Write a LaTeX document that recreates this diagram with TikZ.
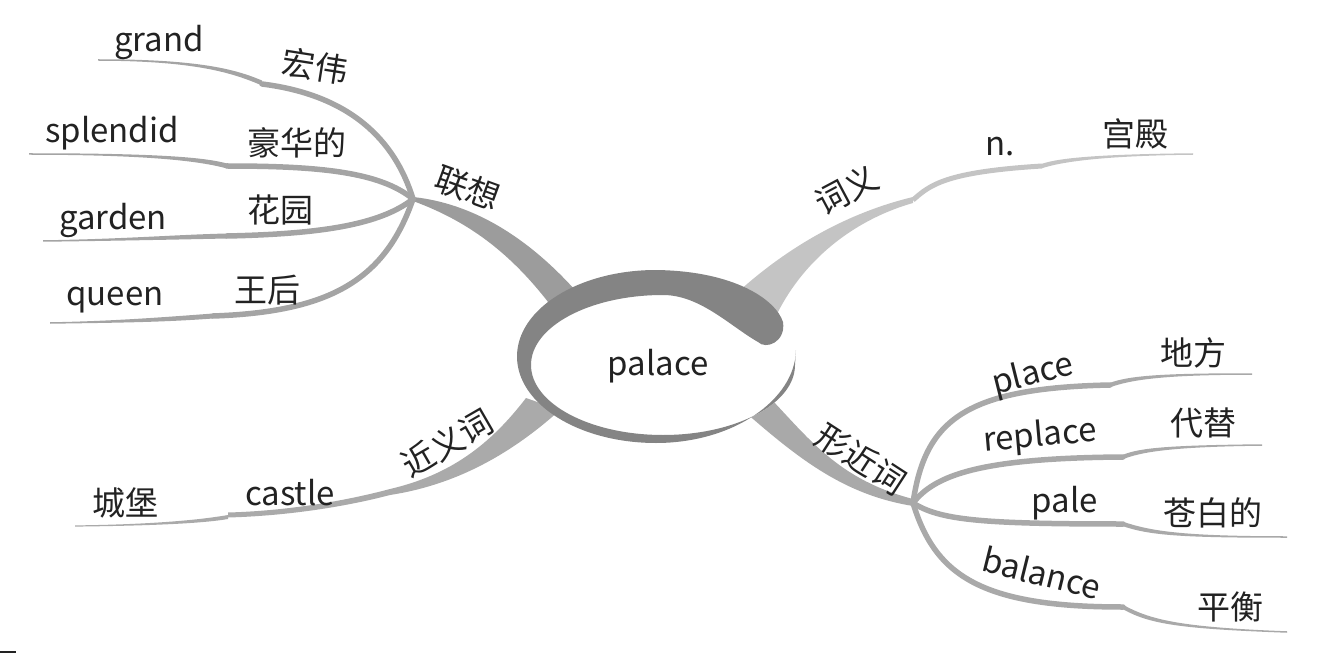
\documentclass[tikz,border=0pt]{standalone}
\usepackage{fontspec}
\setmainfont{Noto Sans CJK SC}
\usetikzlibrary{calc}
\definecolor{swirlc}{HTML}{848484}
\definecolor{lxband}{HTML}{9C9C9C}
\definecolor{lxsub}{HTML}{A4A4A4}
\definecolor{cyc}{HTML}{C4C4C4}
\definecolor{jyc}{HTML}{AAAAAA}
\definecolor{xjc}{HTML}{A9A9A9}
\definecolor{txt}{HTML}{222222}
% tapered horizontal-ish curve: colour, p0, c1, c2, p3, w0, w3
\newcommand\mmtaper[7]{%
  \fill[#1] ($(#2)+(0,-#6/2)$) .. controls ($(#3)+(0,-#6/2)$) and ($(#4)+(0,-#7/2)$) .. ($(#5)+(0,-#7/2)$)
    -- ($(#5)+(0,#7/2)$) .. controls ($(#4)+(0,#7/2)$) and ($(#3)+(0,#6/2)$) .. ($(#2)+(0,#6/2)$) -- cycle;}
\begin{document}
\begin{tikzpicture}[x=1pt,y=-1pt,
  lbl/.style={font=\fontsize{33}{38}\selectfont, text=txt, inner sep=0pt},
  hubline/.style={line width=5.5pt, line cap=round}]
\useasboundingbox (0,0) rectangle (1328,655);

% ---------- named points ----------
\coordinate (H1) at (413,199);   % 联想 hub
\coordinate (H2) at (913,200);   % 词义 step
\coordinate (H3) at (390,492);   % 近义词 step
\coordinate (H4) at (913,503);   % 形近词 hub
\coordinate (g1) at (262,84);   \coordinate (gE) at (98,60);
\coordinate (s1) at (227,166);  \coordinate (sE) at (29,154);
\coordinate (d1) at (227,236);  \coordinate (dE) at (43,241);
\coordinate (q1) at (213,316);  \coordinate (qE) at (50,323);
\coordinate (n1) at (1042,166); \coordinate (nE) at (1193,154);
\coordinate (c1) at (228,515);  \coordinate (cE) at (75,526);
\coordinate (p1) at (1110,385); \coordinate (pE) at (1252,374);
\coordinate (r1) at (1123,457); \coordinate (rE) at (1262,445);
\coordinate (a1) at (1123,524); \coordinate (aE) at (1287,537);
\coordinate (b1) at (1123,607); \coordinate (bE) at (1287,632);

% ---------- 联想 ----------
\fill[lxband] (413,197) .. controls (470,203) and (530,235) .. (588,305)
  -- (560,318) .. controls (515,255) and (470,222) .. (413,201) -- cycle;
\draw[lxsub,hubline] (H1) .. controls (395,140) and (350,95) .. (g1);
\draw[lxsub,hubline] (H1) .. controls (380,172) and (320,166) .. (s1);
\draw[lxsub,hubline] (H1) .. controls (380,225) and (320,234) .. (d1);
\draw[lxsub,hubline] (H1) .. controls (385,280) and (330,312) .. (q1);
\mmtaper{lxsub}{262,83}{236,72}{200,60}{gE}{5}{1.5}
\mmtaper{lxsub}{s1}{205,160}{160,154}{sE}{5}{1.5}
\mmtaper{lxsub}{d1}{180,237}{120,240}{dE}{5}{1.5}
\mmtaper{lxsub}{q1}{160,320}{110,322}{qE}{5}{1.5}

% ---------- 词义 ----------
\fill[cyc] (738,292) .. controls (790,245) and (850,212) .. (913,197)
  -- (913,203) .. controls (860,218) and (805,255) .. (775,318) -- cycle;
\draw[cyc,line width=5pt] (H2) .. controls (930,185) and (945,172) .. (n1);
\mmtaper{cyc}{n1}{1060,160}{1100,155}{nE}{4.5}{1.5}

% ---------- 近义词 ----------
\fill[jyc] (526,398) .. controls (490,445) and (450,475) .. (390,489)
  -- (390,495) .. controls (455,485) and (510,455) .. (560,410) -- cycle;
\mmtaper{jyc}{H3}{360,500}{300,513}{c1}{6}{5}
\mmtaper{jyc}{228,517}{205,521}{160,525}{cE}{4}{1.2}

% ---------- 形近词 ----------
\fill[xjc] (772,400) .. controls (810,440) and (840,480) .. (913,499)
  -- (913,506) .. controls (845,495) and (800,460) .. (745,412) -- cycle;
\draw[xjc,hubline] (H4) .. controls (925,420) and (965,388) .. (p1);
\draw[xjc,hubline] (H4) .. controls (935,475) and (980,458) .. (r1);
\draw[xjc,hubline] (H4) .. controls (940,520) and (980,524) .. (a1);
\draw[xjc,hubline] (H4) .. controls (935,575) and (980,607) .. (b1);
\mmtaper{xjc}{p1}{1130,378}{1160,374}{pE}{4.5}{1.5}
\mmtaper{xjc}{r1}{1140,450}{1170,446}{rE}{4.5}{1.5}
\mmtaper{xjc}{a1}{1150,533}{1180,537}{aE}{4.5}{1.5}
\mmtaper{xjc}{b1}{1150,622}{1180,628}{bE}{4.5}{1.5}

% ---------- centre ----------
\fill[white] (663,365) ellipse [x radius=132, y radius=70];
\fill[swirlc] (783,322) .. controls (776,300) and (735,271) .. (656,270)
  .. controls (579.2,270) and (517,308.7) .. (517,356.5)
  .. controls (517,404.3) and (579.2,443) .. (656,443)
  .. controls (732.8,443) and (795,400) .. (796,350)
  -- (795,365)
  .. controls (795,403.7) and (735.9,435) .. (663,435)
  .. controls (590.1,435) and (531,403.7) .. (531,365)
  .. controls (531,326.3) and (590.1,295) .. (663,295)
  .. controls (700,295) and (730,326) .. (758,342)
  .. controls (766,350) and (786,342) .. (783,322) -- cycle;

% ---------- labels ----------
\node[lbl] (palace) at (658,366) {palace};
\node[lbl,rotate=-20] (lx) at (468,188) {联想};
\node[lbl,rotate=-9] (hw) at (315,66) {宏伟};
\node[lbl] (grand) at (159,42) {grand};
\node[lbl] (hhd) at (297,143) {豪华的};
\node[lbl] (splendid) at (112,133) {splendid};
\node[lbl] (hy) at (280,210) {花园};
\node[lbl] (garden) at (113,220) {garden};
\node[lbl] (wh) at (267,290) {王后};
\node[lbl] (queen) at (115,300) {queen};
\node[lbl,rotate=28] (cy) at (847,190) {词义};
\node[lbl] (n) at (1000,147) {n.};
\node[lbl] (gd) at (1135,134) {宫殿};
\node[lbl,rotate=30] (jy) at (447,443) {近义词};
\node[lbl] (castle) at (290,493) {castle};
\node[lbl] (cb) at (125,503) {城堡};
\node[lbl,rotate=-33] (xj) at (861,459) {形近词};
\node[lbl,rotate=14] (place) at (1033,375) {place};
\node[lbl] (df) at (1193,353) {地方};
\node[lbl,rotate=5] (replace) at (1040,437) {replace};
\node[lbl] (dt) at (1203,423) {代替};
\node[lbl] (pale) at (1065,503) {pale};
\node[lbl] (cbd) at (1213,513) {苍白的};
\node[lbl,rotate=-14] (balance) at (1042,573) {balance};
\node[lbl] (ph) at (1230,607) {平衡};

\coordinate (m0) at (0,652); \coordinate (m1) at (16,652);
\draw[txt,line width=1.5pt] (m0) -- (m1);
\end{tikzpicture}
\end{document}
